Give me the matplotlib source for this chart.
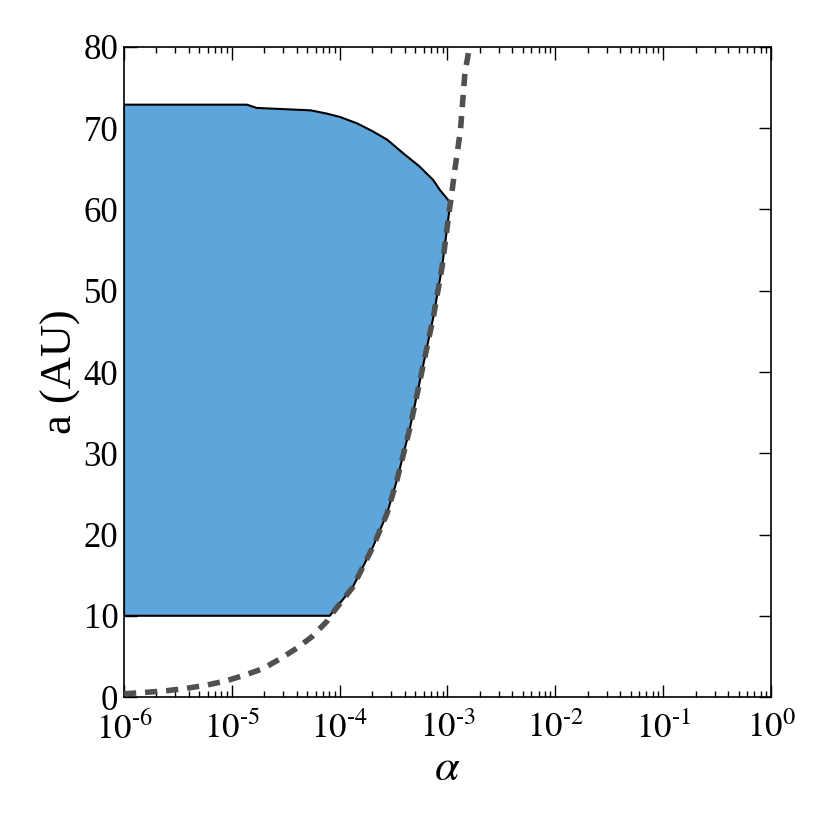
import matplotlib.pyplot as plt
import numpy as np

plt.rcParams['font.family'] = ['Liberation Serif', 'DejaVu Serif']
plt.rcParams['mathtext.fontset'] = 'stix'

# dashed boundary curve: alpha vs a (AU)
curve_alpha = [1.0e-6, 1.5e-6, 2.5e-6, 3.8e-6, 5.9e-6, 8.9e-6, 1.32e-5, 1.95e-5,
               2.8e-5, 4.0e-5, 5.5e-5, 7.6e-5, 8.1e-5,
               1.32e-4, 2.04e-4, 2.75e-4, 3.4e-4, 4.5e-4, 5.9e-4, 7.4e-4, 8.9e-4,
               1.05e-3, 1.07e-3, 1.17e-3, 1.32e-3, 1.45e-3, 1.6e-3]
curve_a = [0.4, 0.55, 0.78, 1.07, 1.48, 2.0, 2.7, 3.5,
           4.7, 6.0, 7.4, 9.3, 9.9,
           13.5, 18.5, 22.6, 26.7, 33.2, 40.6, 46.8, 52.9,
           60.3, 61.0, 64.9, 69.8, 76.8, 80.0]

# upper edge of the allowed region
top_alpha = [1.0e-6, 1.38e-5, 1.7e-5, 5.4e-5, 7.6e-5, 1.0e-4, 1.45e-4, 2.04e-4,
             2.75e-4, 3.9e-4, 5.5e-4, 7.4e-4, 8.5e-4, 1.07e-3]
top_a = [72.9, 72.9, 72.5, 72.2, 71.8, 71.4, 70.6, 69.6,
         68.6, 66.9, 65.3, 63.6, 62.4, 60.8]

# right edge follows the curve from a=61 down to a=10
right_alpha = [1.07e-3, 1.05e-3, 8.9e-4, 7.4e-4, 5.9e-4, 4.5e-4, 3.4e-4, 2.75e-4,
               2.04e-4, 1.32e-4, 8.1e-5]
right_a = [61.0, 60.3, 52.9, 46.8, 40.6, 33.2, 26.7, 22.6,
           18.5, 13.5, 10.0]
a_min = 10.0

xtick_vals = [1e-6, 1e-5, 1e-4, 1e-3, 1e-2, 1e-1, 1e0]
xtick_exps = ['-6', '-5', '-4', '-3', '-2', '-1', '0']

fig = plt.figure(figsize=(8.3, 8.3), dpi=100)
ax = fig.add_axes([0.1494, 0.1602, 0.7795, 0.7832])

poly_x = top_alpha + right_alpha + [1.0e-6]
poly_y = top_a + right_a + [a_min]
ax.fill(poly_x, poly_y, facecolor='#5da5da', edgecolor='black', linewidth=1.5, zorder=2)
ax.plot(curve_alpha, curve_a, color='#505050', linewidth=4, linestyle=(0, (2.2, 1.6)), zorder=3)

ax.set_xscale('log')
ax.set_xlim(1e-6, 1)
ax.set_ylim(0, 80)
ax.set_xticks(xtick_vals)
ax.set_xticklabels([r'$\mathrm{10}^{\text{%s}}$' % e for e in xtick_exps])
ax.set_yticks(np.arange(0, 81, 10))
ax.tick_params(which='both', direction='in', top=True, right=True, labelsize=25)
ax.tick_params(axis='x', pad=11)
ax.tick_params(axis='y', pad=4)
ax.tick_params(which='major', length=9, width=1)
ax.tick_params(which='minor', length=4, width=1)
for s in ax.spines.values():
    s.set_linewidth(1.2)

ax.set_xlabel(r'$\alpha$', fontsize=32, labelpad=2)
ax.set_ylabel('a (AU)', fontsize=32, labelpad=2)

fig.savefig('out.png', dpi=100)
